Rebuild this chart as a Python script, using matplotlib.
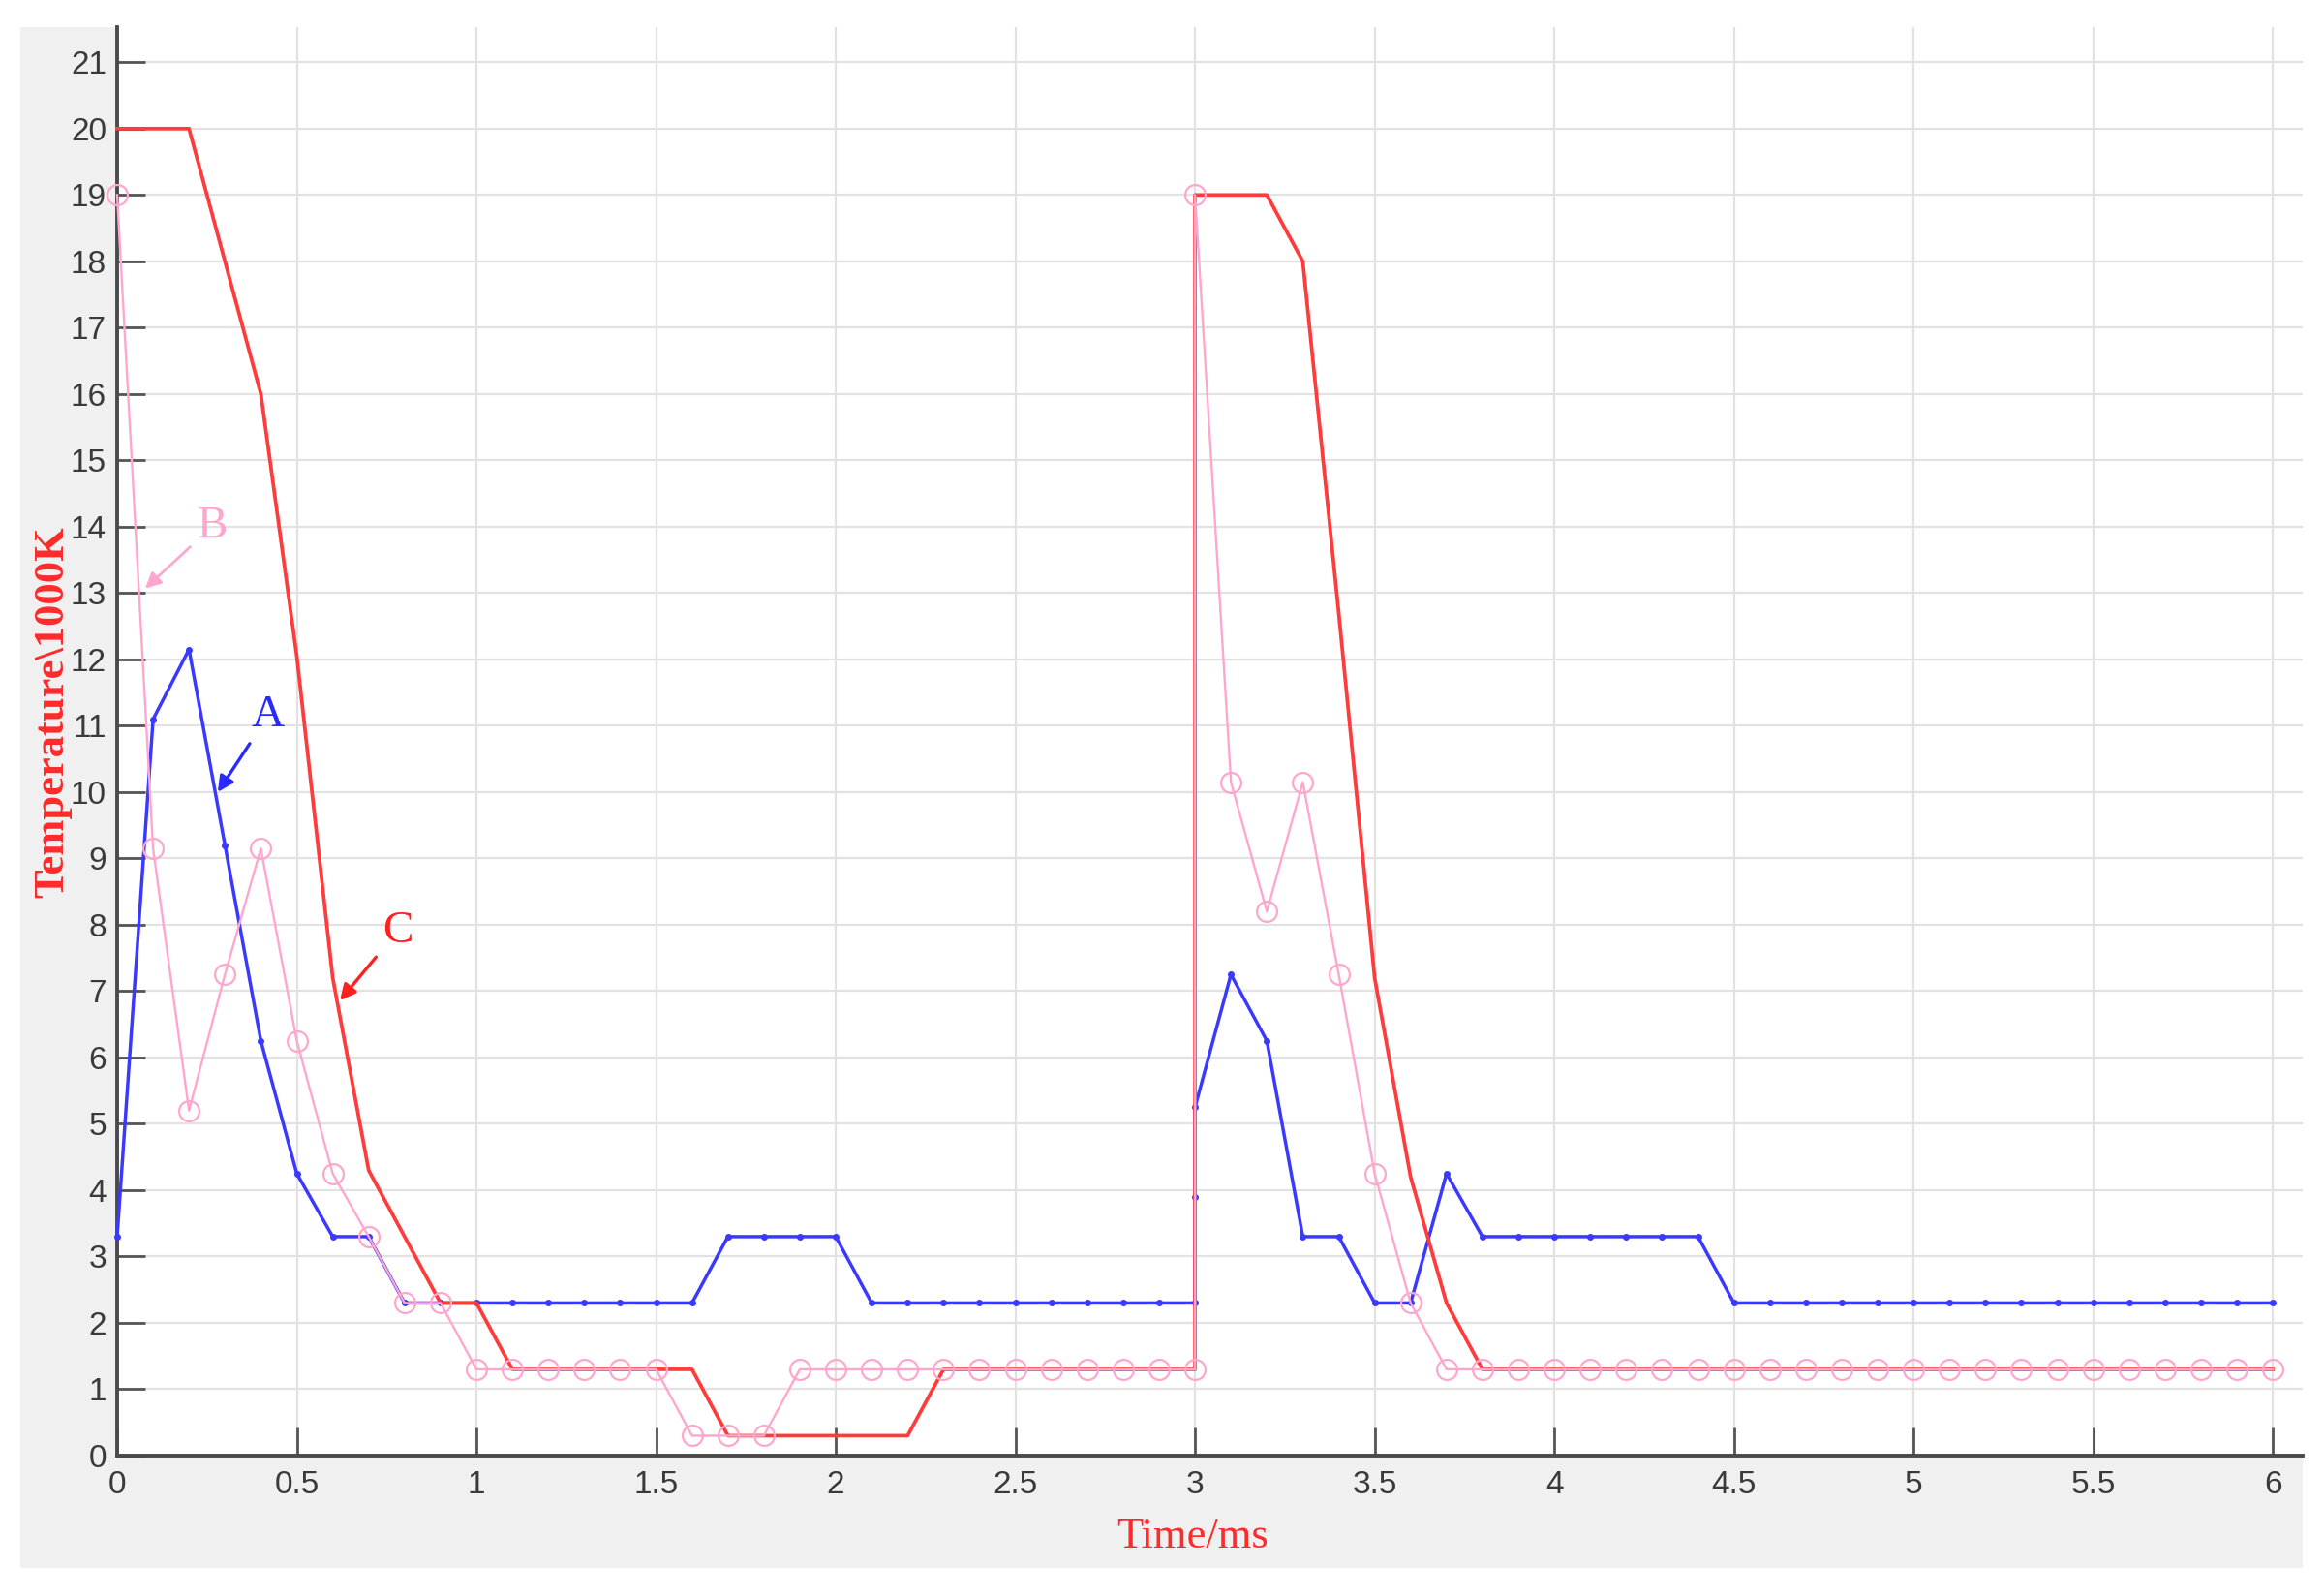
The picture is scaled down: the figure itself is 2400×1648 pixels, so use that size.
import numpy as np
import matplotlib
matplotlib.use("Agg")
from matplotlib import pyplot as plt
from matplotlib.patches import Rectangle

# time axis (ms) for each curve; the jump at 3 ms is drawn as a repeated x
t_a = [0, 0.1, 0.2, 0.3, 0.4, 0.5, 0.6, 0.7, 0.8, 0.9, 1.0, 1.1, 1.2, 1.3, 1.4, 1.5, 1.6,
       1.7, 1.8, 1.9, 2.0, 2.1, 2.2, 2.3, 2.4, 2.5, 2.6, 2.7, 2.8, 2.9, 3.0, 3.0, 3.0,
       3.1, 3.2, 3.3, 3.4, 3.5, 3.6, 3.7, 3.8, 3.9, 4.0, 4.1, 4.2, 4.3, 4.4, 4.5, 4.6,
       4.7, 4.8, 4.9, 5.0, 5.1, 5.2, 5.3, 5.4, 5.5, 5.6, 5.7, 5.8, 5.9, 6.0]
temp_a = [3.3, 11.1, 12.15, 9.2, 6.25, 4.25, 3.3, 3.3, 2.3, 2.3, 2.3, 2.3, 2.3, 2.3, 2.3, 2.3, 2.3,
          3.3, 3.3, 3.3, 3.3, 2.3, 2.3, 2.3, 2.3, 2.3, 2.3, 2.3, 2.3, 2.3, 2.3, 3.9, 5.25,
          7.25, 6.25, 3.3, 3.3, 2.3, 2.3, 4.25, 3.3, 3.3, 3.3, 3.3, 3.3, 3.3, 3.3, 2.3, 2.3,
          2.3, 2.3, 2.3, 2.3, 2.3, 2.3, 2.3, 2.3, 2.3, 2.3, 2.3, 2.3, 2.3, 2.3]

t_b = [0, 0.1, 0.2, 0.3, 0.4, 0.5, 0.6, 0.7, 0.8, 0.9, 1.0, 1.1, 1.2, 1.3, 1.4, 1.5, 1.6,
       1.7, 1.8, 1.9, 2.0, 2.1, 2.2, 2.3, 2.4, 2.5, 2.6, 2.7, 2.8, 2.9, 3.0, 3.0,
       3.1, 3.2, 3.3, 3.4, 3.5, 3.6, 3.7, 3.8, 3.9, 4.0, 4.1, 4.2, 4.3, 4.4, 4.5, 4.6,
       4.7, 4.8, 4.9, 5.0, 5.1, 5.2, 5.3, 5.4, 5.5, 5.6, 5.7, 5.8, 5.9, 6.0]
temp_b = [19.0, 9.15, 5.2, 7.25, 9.15, 6.25, 4.25, 3.3, 2.3, 2.3, 1.3, 1.3, 1.3, 1.3, 1.3, 1.3, 0.3,
          0.3, 0.3, 1.3, 1.3, 1.3, 1.3, 1.3, 1.3, 1.3, 1.3, 1.3, 1.3, 1.3, 1.3, 19.0,
          10.15, 8.2, 10.15, 7.25, 4.25, 2.3, 1.3, 1.3, 1.3, 1.3, 1.3, 1.3, 1.3, 1.3, 1.3, 1.3,
          1.3, 1.3, 1.3, 1.3, 1.3, 1.3, 1.3, 1.3, 1.3, 1.3, 1.3, 1.3, 1.3, 1.3]

t_c = [0, 0.1, 0.2, 0.3, 0.4, 0.5, 0.6, 0.7, 0.8, 0.9, 1.0, 1.1, 1.2, 1.3, 1.4, 1.5, 1.6,
       1.7, 1.8, 1.9, 2.0, 2.1, 2.2, 2.3, 2.4, 2.5, 2.6, 2.7, 2.8, 2.9, 3.0, 3.0,
       3.1, 3.2, 3.3, 3.4, 3.5, 3.6, 3.7, 3.8, 3.9, 4.0, 4.1, 4.2, 4.3, 4.4, 4.5, 4.6,
       4.7, 4.8, 4.9, 5.0, 5.1, 5.2, 5.3, 5.4, 5.5, 5.6, 5.7, 5.8, 5.9, 6.0]
temp_c = [20.0, 20.0, 20.0, 18.0, 16.0, 12.05, 7.2, 4.3, 3.3, 2.3, 2.3, 1.3, 1.3, 1.3, 1.3, 1.3, 1.3,
          0.3, 0.3, 0.3, 0.3, 0.3, 0.3, 1.3, 1.3, 1.3, 1.3, 1.3, 1.3, 1.3, 1.3, 19.0,
          19.0, 19.0, 18.0, 12.7, 7.2, 4.2, 2.3, 1.3, 1.3, 1.3, 1.3, 1.3, 1.3, 1.3, 1.3, 1.3,
          1.3, 1.3, 1.3, 1.3, 1.3, 1.3, 1.3, 1.3, 1.3, 1.3, 1.3, 1.3, 1.3, 1.3]

x_ticks = [0, 0.5, 1, 1.5, 2, 2.5, 3, 3.5, 4, 4.5, 5, 5.5, 6]
x_ticklabels = ['0', '0.5', '1', '1.5', '2', '2.5', '3', '3.5', '4', '4.5', '5', '5.5', '6']
y_ticks = list(range(0, 22))

W, H = 2400, 1648
fig = plt.figure(figsize=(W / 100, H / 100), dpi=100)
fig.patch.set_facecolor('white')

# gray figure panel like the MATLAB window (drawn behind the axes)
bg = fig.add_axes([0, 0, 1, 1], zorder=-1)
bg.axis('off')
bg.set_xlim(0, W)
bg.set_ylim(H, 0)
bg.add_patch(Rectangle((21, 28), 2378 - 21, 1619 - 28, facecolor='#f0f0f0', edgecolor='none'))

ax = fig.add_axes([121 / W, 1 - 1503 / H, (2378 - 121) / W, (1503 - 28) / H], zorder=2)
ax.set_facecolor('white')

blue = '#3a3aff'
red = '#ff3b3b'
pink = '#ffa6cf'

ax.plot(t_a, temp_a, color=blue, lw=2.5, marker='.', ms=8, clip_on=False, zorder=3)
ax.plot(t_c, temp_c, color=red, lw=2.7, clip_on=False, zorder=4)
ax.plot(t_b, temp_b, color=pink, lw=1.7, marker='o', ms=15, mfc='none', mec=pink,
        mew=1.6, clip_on=False, zorder=5)

ax.set_xlim(0, 6.083)
ax.set_ylim(0, 21.53)
ax.set_xticks(x_ticks)
ax.set_xticklabels(x_ticklabels)
ax.set_yticks(y_ticks)

tick_font = ['Liberation Sans Narrow', 'Liberation Sans', 'DejaVu Sans']
for lab in ax.get_xticklabels() + ax.get_yticklabels():
    lab.set_fontfamily(tick_font)
    lab.set_fontsize(24)
    lab.set_color('#3a3a3a')

ax.tick_params(axis='both', direction='in', length=21, width=2, color='#555555')
ax.tick_params(axis='x', pad=11, top=False)
ax.tick_params(axis='y', pad=8, right=False)

ax.grid(True, color='#e2e2e2', lw=1.6)
ax.set_axisbelow(True)
for side in ['top', 'right']:
    ax.spines[side].set_visible(False)
for side in ['left', 'bottom']:
    ax.spines[side].set_color('#4a4a4a')
    ax.spines[side].set_linewidth(2.8)

serif = ['Liberation Serif', 'DejaVu Serif']
fig.text(54 / W, 1 - 735 / H, 'Temperature\\1000K', rotation=90, ha='center', va='center',
         color='#ff2a2a', fontsize=32, family=serif, fontweight='bold')
fig.text(1232 / W, 1 - 1587 / H, 'Time/ms', ha='center', va='center',
         color='#ff2a2a', fontsize=32, family=serif)

# curve labels with arrows
ax.annotate('A', xy=(0.28, 10.0), xytext=(0.42, 11.15), color='#2a2aff', fontsize=34,
            family=serif, ha='center', va='center',
            arrowprops=dict(arrowstyle='-|>', color='#2a2aff', lw=2.4, mutation_scale=24,
                            shrinkA=4, shrinkB=0))
ax.annotate('B', xy=(0.078, 13.07), xytext=(0.264, 14.0), color=pink, fontsize=34,
            family=serif, ha='center', va='center',
            arrowprops=dict(arrowstyle='-|>', color=pink, lw=2.0, mutation_scale=24,
                            shrinkA=4, shrinkB=0))
ax.annotate('C', xy=(0.62, 6.86), xytext=(0.78, 7.9), color='#ff2020', fontsize=34,
            family=serif, ha='center', va='center',
            arrowprops=dict(arrowstyle='-|>', color='#ff2020', lw=2.4, mutation_scale=24,
                            shrinkA=4, shrinkB=0))

fig.savefig('out.png', dpi=100)
